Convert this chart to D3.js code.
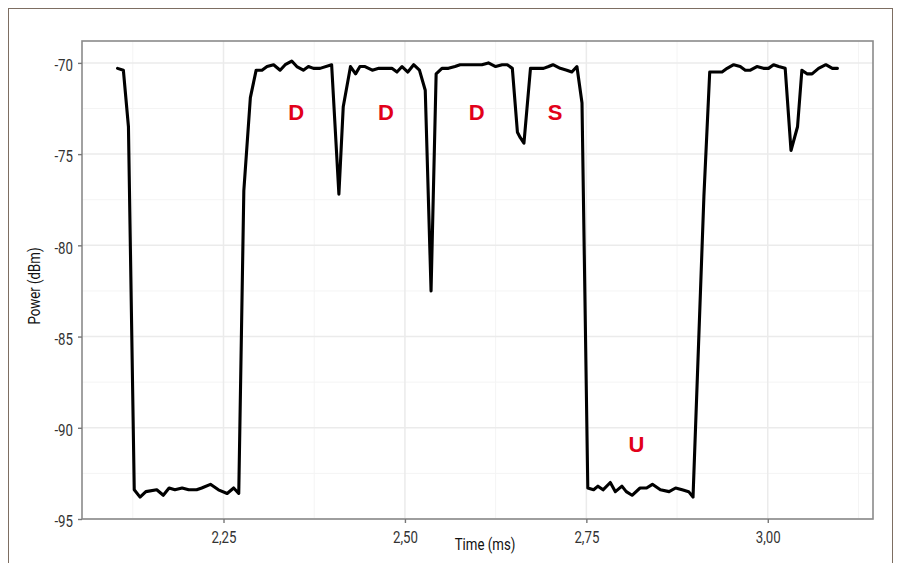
<!DOCTYPE html>
<html>
<head>
<meta charset="utf-8">
<script src="https://cdn.jsdelivr.net/npm/d3@7"></script>
<style>
  body { margin: 0; background: #fff; }
  svg { display: block; }
</style>
</head>
<body>
<div id="chart"></div>
<script>
// Sampled power trace (time in ms, power in dBm)
const time = [
  2.104, 2.112, 2.119, 2.127, 2.135, 2.143, 2.158, 2.167, 2.175, 2.183,
  2.193, 2.202, 2.213, 2.220, 2.232, 2.243, 2.255, 2.264, 2.271, 2.278,
  2.287, 2.295, 2.303, 2.310, 2.319, 2.328, 2.335, 2.344, 2.351, 2.360,
  2.367, 2.374, 2.383, 2.399, 2.409, 2.415, 2.425, 2.432, 2.438, 2.445,
  2.455, 2.464, 2.473, 2.482, 2.489, 2.496, 2.504, 2.512, 2.520, 2.528,
  2.536, 2.543, 2.551, 2.560, 2.569, 2.576, 2.586, 2.595, 2.606, 2.615,
  2.625, 2.634, 2.641, 2.648, 2.655, 2.659, 2.664, 2.673, 2.682, 2.691,
  2.698, 2.704, 2.714, 2.723, 2.730, 2.737, 2.744, 2.752, 2.760, 2.766,
  2.773, 2.783, 2.790, 2.799, 2.805, 2.813, 2.824, 2.833, 2.841, 2.852,
  2.864, 2.873, 2.882, 2.891, 2.897, 2.912, 2.920, 2.930, 2.937, 2.944,
  2.953, 2.962, 2.969, 2.976, 2.985, 2.994, 3.001, 3.008, 3.015, 3.024,
  3.032, 3.041, 3.047, 3.054, 3.061, 3.070, 3.080, 3.089, 3.096
];
const power = [
  -70.3, -70.4, -73.5, -93.4, -93.8, -93.5, -93.4, -93.7, -93.3, -93.4,
  -93.3, -93.4, -93.4, -93.3, -93.1, -93.4, -93.6, -93.3, -93.6, -77.0,
  -71.9, -70.4, -70.4, -70.2, -70.1, -70.4, -70.1, -69.9, -70.2, -70.4,
  -70.2, -70.3, -70.3, -70.1, -77.2, -72.4, -70.2, -70.6, -70.2, -70.2,
  -70.4, -70.3, -70.3, -70.3, -70.5, -70.2, -70.5, -70.1, -70.4, -71.5,
  -82.5, -70.6, -70.3, -70.3, -70.2, -70.1, -70.1, -70.1, -70.1, -70.0,
  -70.2, -70.1, -70.1, -70.3, -73.8, -74.1, -74.4, -70.3, -70.3, -70.3,
  -70.2, -70.1, -70.3, -70.4, -70.5, -70.2, -72.2, -93.3, -93.4, -93.2,
  -93.4, -93.0, -93.5, -93.2, -93.5, -93.7, -93.3, -93.3, -93.1, -93.4,
  -93.5, -93.3, -93.4, -93.5, -93.8, -77.3, -70.5, -70.5, -70.5, -70.3,
  -70.1, -70.2, -70.4, -70.4, -70.2, -70.3, -70.3, -70.1, -70.2, -70.3,
  -74.8, -73.5, -70.4, -70.6, -70.6, -70.3, -70.1, -70.3, -70.3
];

// Subframe annotations
const labelText = ['D', 'D', 'D', 'S', 'U'];
const labelTime = [2.350, 2.474, 2.599, 2.707, 2.819];
const labelPower = [-72.7, -72.7, -72.7, -72.7, -90.9];

const xTicks = [2.25, 2.5, 2.75, 3.0];
const yTicks = [-95, -90, -85, -80, -75, -70];

const width = 898, height = 563;
const margin = { top: 41, right: 25, bottom: 44, left: 82 };
const innerW = width - margin.left - margin.right;
const innerH = height - margin.top - margin.bottom;

// narrow text: squeeze a regular face horizontally
const squeeze = 0.78;
const axisFont = 'Roboto, "Liberation Sans", sans-serif';

const svg = d3.select('#chart')
  .append('svg')
  .attr('width', width)
  .attr('height', height);

// outer frame
svg.append('rect')
  .attr('x', 8.5).attr('y', 8.5)
  .attr('width', 884).attr('height', 570)
  .attr('fill', 'none')
  .attr('stroke', '#7d6e62')
  .attr('stroke-width', 1);

const g = svg.append('g')
  .attr('transform', `translate(${margin.left},${margin.top})`);

const x = d3.scaleLinear().domain([2.055, 3.145]).range([0, innerW]);
const y = d3.scaleLinear().domain([-95, -68.8]).range([innerH, 0]);

// minor grid
const xMinor = [2.125, 2.375, 2.625, 2.875, 3.125];
const yMinor = [-92.5, -87.5, -82.5, -77.5, -72.5];
g.append('g').selectAll('line').data(xMinor).join('line')
  .attr('x1', d => x(d)).attr('x2', d => x(d))
  .attr('y1', 0).attr('y2', innerH)
  .attr('stroke', '#f4f4f4').attr('stroke-width', 1);
g.append('g').selectAll('line').data(yMinor).join('line')
  .attr('y1', d => y(d)).attr('y2', d => y(d))
  .attr('x1', 0).attr('x2', innerW)
  .attr('stroke', '#f4f4f4').attr('stroke-width', 1);

// major grid
g.append('g').selectAll('line').data(xTicks).join('line')
  .attr('x1', d => x(d)).attr('x2', d => x(d))
  .attr('y1', 0).attr('y2', innerH)
  .attr('stroke', '#ebebeb').attr('stroke-width', 1.5);
g.append('g').selectAll('line').data(yTicks).join('line')
  .attr('y1', d => y(d)).attr('y2', d => y(d))
  .attr('x1', 0).attr('x2', innerW)
  .attr('stroke', '#ebebeb').attr('stroke-width', 1.5);

// power trace
const line = d3.line()
  .x((d, i) => x(time[i]))
  .y(d => y(d));

g.append('path')
  .datum(power)
  .attr('d', line)
  .attr('fill', 'none')
  .attr('stroke', '#000')
  .attr('stroke-width', 3.1)
  .attr('stroke-linejoin', 'round')
  .attr('stroke-linecap', 'round');

// annotations
g.append('g').selectAll('text').data(labelText).join('text')
  .attr('x', (d, i) => x(labelTime[i]))
  .attr('y', (d, i) => y(labelPower[i]))
  .attr('dy', '0.36em')
  .attr('text-anchor', 'middle')
  .style('font-family', '"Liberation Sans", Arial, sans-serif')
  .style('font-weight', '700')
  .style('font-size', '22px')
  .style('fill', '#e2001a')
  .text(d => d);

// panel border
g.append('rect')
  .attr('width', innerW).attr('height', innerH)
  .attr('fill', 'none')
  .attr('stroke', '#8a8a8a')
  .attr('stroke-width', 1.6);

// axes
const fmtX = d => d3.format('.2f')(d).replace('.', ',');
const fmtY = d => String(d); // plain hyphen minus, as in the original
const xAxis = g.append('g')
  .attr('transform', `translate(0,${innerH})`)
  .call(d3.axisBottom(x).tickValues(xTicks).tickFormat(fmtX).tickSize(4).tickPadding(8));
const yAxis = g.append('g')
  .call(d3.axisLeft(y).tickValues(yTicks).tickFormat(fmtY).tickSize(4).tickPadding(5));

[xAxis, yAxis].forEach(a => {
  a.select('.domain').remove();
  a.selectAll('.tick line').attr('stroke', '#777').attr('stroke-width', 1.4);
  a.selectAll('.tick text')
    .style('font-family', axisFont)
    .style('font-size', '17px')
    .style('fill', '#333');
});
xAxis.selectAll('.tick text').attr('transform', `scale(${squeeze},1)`);
yAxis.selectAll('.tick text')
  .attr('x', -9 / squeeze)
  .attr('dy', '0.45em')
  .attr('transform', `scale(${squeeze},1)`);

// axis titles
svg.append('text')
  .attr('transform', `translate(485,550) scale(${squeeze},1)`)
  .attr('text-anchor', 'middle')
  .style('font-family', axisFont)
  .style('font-size', '17px')
  .style('fill', '#111')
  .text('Time (ms)');

svg.append('text')
  .attr('transform', `translate(40,286) rotate(-90) scale(${squeeze},1)`)
  .attr('text-anchor', 'middle')
  .style('font-family', axisFont)
  .style('font-size', '17px')
  .style('fill', '#111')
  .text('Power (dBm)');
</script>
</body>
</html>
